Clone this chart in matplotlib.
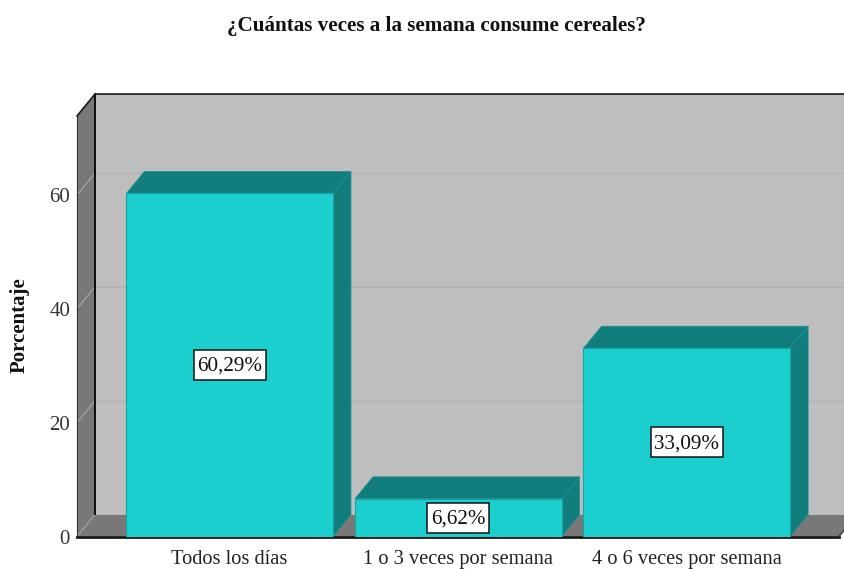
import matplotlib
matplotlib.use('Agg')
import matplotlib.pyplot as plt
from matplotlib.patches import Polygon, Rectangle

# datos
categorias = ['Todos los días', '1 o 3 veces por semana', '4 o 6 veces por semana']
porcentajes = [60.29, 6.62, 33.09]
etiquetas = ['60,29%', '6,62%', '33,09%']
ticks_y = [0, 20, 40, 60]

plt.rcParams['font.family'] = ['Liberation Serif', 'DejaVu Serif']

W, H = 845, 569
fig = plt.figure(figsize=(W / 100, H / 100), dpi=100, facecolor='white')
ax = fig.add_axes([77 / W, 1 - 536.5 / H, (839 - 77) / W, (536.5 - 116) / H])

x0, x1 = -0.668, 2.666
y0, y1 = 0, 73.9
ax.set_xlim(x0, x1)
ax.set_ylim(y0, y1)

# profundidad 3D en unidades de datos
px_x = 1 / 228.5
px_y = 1 / 5.69
dx = 18 * px_x
dy = 22 * px_y
ancho = 0.904

FRENTE = '#1CCFCF'
OSCURO = '#127D7D'
PARED = '#BEBEBE'
LATERAL = '#787878'
REJILLA = '#B2B2B2'


def poligono(puntos, color, z, borde='none', lw=0.0):
    p = Polygon(puntos, closed=True, facecolor=color, edgecolor=borde, linewidth=lw,
                zorder=z, clip_on=False)
    ax.add_patch(p)


# pared del fondo, pared izquierda y piso
poligono([(x0 + dx, dy), (x1 + dx, dy), (x1 + dx, y1 + dy), (x0 + dx, y1 + dy)], PARED, 1)
poligono([(x0, 0), (x0 + dx, dy), (x0 + dx, y1 + dy), (x0, y1)], LATERAL, 1)
poligono([(x0, 0), (x1, 0), (x1 + dx, dy), (x0 + dx, dy)], LATERAL, 1)

# rejilla
for t in ticks_y[1:]:
    ax.plot([x0 + dx, x1 + dx], [t + dy, t + dy], color=REJILLA, lw=1.0, zorder=2, clip_on=False)
    ax.plot([x0, x0 + dx], [t, t + dy], color='#A8A8A8', lw=0.8, zorder=2, clip_on=False)
ax.plot([x0, x0 + dx], [0, dy], color='#A8A8A8', lw=0.7, zorder=2, clip_on=False)

# contornos
ax.plot([x0 + dx, x0 + dx], [dy, y1 + dy], color='black', lw=1.3, zorder=3, clip_on=False)
ax.plot([x0, x0 + dx, x1 + dx], [y1, y1 + dy, y1 + dy], color='#1A1A1A', lw=1.2, zorder=3, clip_on=False)
ax.plot([x0, x0], [0, y1], color='#333333', lw=0.8, zorder=3, clip_on=False)
ax.plot([x0, x1], [0, 0], color='#1A1A1A', lw=2.0, zorder=3, clip_on=False)
ax.plot([x1, x1 + dx], [0, dy], color='#333333', lw=1.0, zorder=3, clip_on=False)

# barras
pos = list(range(len(categorias)))
ax.bar(pos, porcentajes, width=ancho, color=FRENTE, edgecolor='#17A5A5', linewidth=0.8, zorder=5)
for i, v in zip(pos, porcentajes):
    a = i - ancho / 2
    b = i + ancho / 2
    poligono([(a, v), (b, v), (b + dx, v + dy), (a + dx, v + dy)], OSCURO, 4, '#1A9292', 0.5)
    poligono([(b, 0), (b + dx, dy), (b + dx, v + dy), (b, v)], OSCURO, 4, '#1A9292', 0.5)

# etiquetas de valor: caja medida sobre el texto
renderer = fig.canvas.get_renderer()
for i, v, e in zip(pos, porcentajes, etiquetas):
    t = ax.text(i, v / 2 - 1.3 * px_y, e, ha='center', va='center', fontsize=15.2, color='#111111', zorder=7)
    ancho_px = t.get_window_extent(renderer).width + 7
    caja_w = ancho_px * px_x
    caja_h = 30 * px_y
    ax.add_patch(Rectangle((i - caja_w / 2, v / 2 - caja_h / 2), caja_w, caja_h, facecolor='white',
                           edgecolor='#111111', linewidth=1.1, zorder=6))

for s in ax.spines.values():
    s.set_visible(False)
ax.set_xticks(pos)
ax.set_xticklabels(categorias, fontsize=14.7, color='#222222')
ax.set_yticks(ticks_y)
ax.set_yticklabels([str(t) for t in ticks_y], fontsize=15, color='#333333')
ax.tick_params(axis='both', length=0)
ax.tick_params(axis='x', pad=10)
ax.tick_params(axis='y', pad=5)

fig.text(436 / W, 1 - 25.5 / H, '¿Cuántas veces a la semana consume cereales?', ha='center', va='center',
         fontsize=15.2, fontweight='bold', color='#111111')
fig.text(20 / W, 1 - 325 / H, 'Porcentaje', ha='center', va='center', rotation=90,
         fontsize=15, fontweight='bold', color='#111111')

fig.savefig('out.png', dpi=100)
